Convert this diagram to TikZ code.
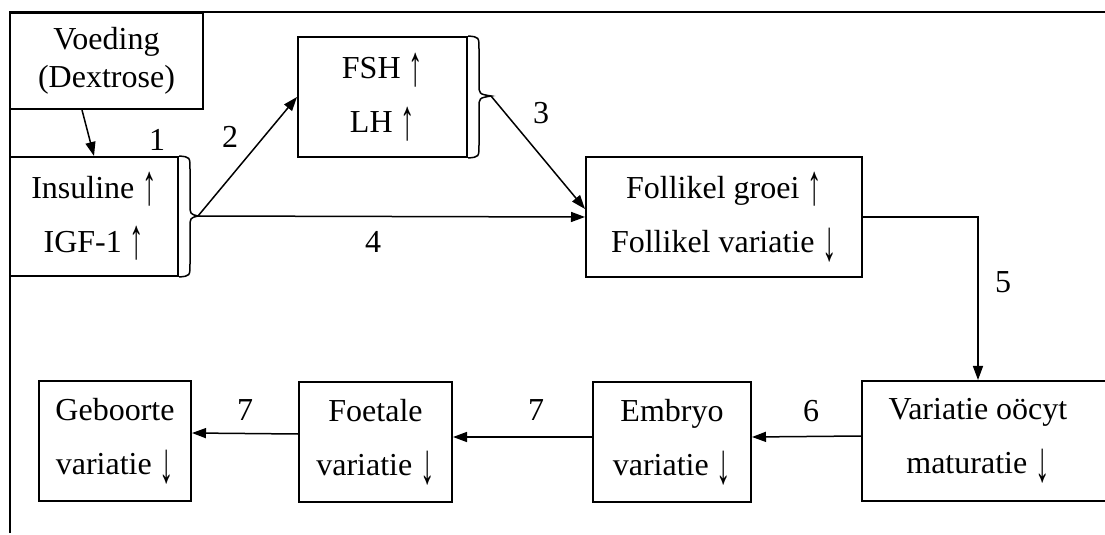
\documentclass[tikz,border=0pt]{standalone}
\usepackage{fontspec}
\setmainfont{Liberation Serif}
\usetikzlibrary{arrows.meta,calc}
\newcommand{\op}{\raisebox{-0.2em}{\scalebox{0.9}[1.8]{↑}}}
\newcommand{\neer}{\raisebox{-0.25em}{\scalebox{0.9}[1.8]{↓}}}

\begin{document}
\begin{tikzpicture}[x=0.5pt, y=-0.5pt, font=\fontsize{16}{27}\selectfont,
		box/.style={draw, line width=1pt, align=center, inner sep=0pt, minimum height=60pt},
		pijl/.style={line width=0.75pt, -{Triangle[length=7pt,width=5pt]}}]
		\useasboundingbox (0,0) rectangle (1105,535);

		\node[box, minimum width=96.5pt, minimum height=48pt, font=\fontsize{16}{19}\selectfont] (voeding) at (106.5,61) {Voeding\\(Dextrose)};
		\node[box, minimum width=84pt, minimum height=59.5pt] (insuline) at (94,216.5) {Insuline \op\\IGF-1 \op};
		\node[box, minimum width=84.5pt] (fsh) at (382.5,97) {FSH \op\\LH \op};
		\node[box, minimum width=138pt] (follikel) at (724,217) {Follikel groei \op\\Follikel variatie \neer};
		\node[box, minimum width=128pt] (varoocyt) at (990,441) {};
		\node[align=center, inner sep=0pt] (varoocyttekst) at (978,441) {Variatie oöcyt\\maturatie \neer};
		\node[box, minimum width=79pt] (embryo) at (672,442) {Embryo\\variatie \neer};
		\node[box, minimum width=76.5pt] (foetale) at (375.5,442) {Foetale\\variatie \neer};
		\node[box, minimum width=76pt] (geboorte) at (115,441) {Geboorte\\variatie \neer};

		% kader
		\draw[line width=1pt] (10,533) -- (10,12) -- (1105,12);

		% accolades
		\coordinate (knik1) at (198,216);
		\coordinate (knik2) at (491,96);
		\draw[line width=0.75pt] (insuline.north east) .. controls (190,157) .. (190,169) -- (190,204) .. controls (190,214) .. (knik1) .. controls (190,218) .. (190,228) -- (190,264) .. controls (190,276) .. (insuline.south east);
		\draw[line width=0.75pt] (fsh.north east) .. controls (479,37) .. (479,49) -- (479,84) .. controls (479,94) .. (knik2) .. controls (479,98) .. (479,108) -- (479,145) .. controls (479,157) .. (fsh.south east);

		\draw[pijl] ($(voeding.south west)+(73,0)$) -- (insuline.north);
		\draw[pijl] (knik1) -- (fsh.west);
		\draw[pijl] (knik1) -- (follikel.west);
		\draw[pijl] (knik2) -- ($(follikel.west)+(0,-8)$);
		\draw[pijl] (follikel.east) -| (varoocyttekst |- varoocyt.north);
		\draw[pijl] ($(varoocyt.west)+(0,-5)$) -- ($(embryo.east)+(0,-5)$);
		\draw[pijl] ($(embryo.west)+(0,-5)$) -- ($(foetale.east)+(0,-5)$);
		\draw[pijl] ($(foetale.west)+(0,-8)$) -- ($(geboorte.east)+(0,-8)$);

		\node (n1) at (157,140) {1};
		\node (n2) at (230,137) {2};
		\node (n3) at (541,113) {3};
		\node (n4) at (373,242) {4};
		\node (n5) at (1003,282) {5};
		\node (n6) at (811,411) {6};
		\node (n7a) at (536,410) {7};
		\node (n7b) at (245,410) {7};
	\end{tikzpicture}
\end{document}
